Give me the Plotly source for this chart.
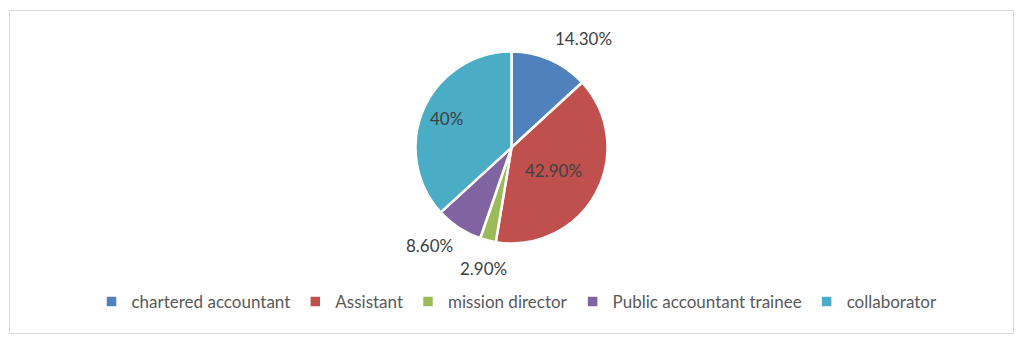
import math
import plotly.graph_objects as go

# Share of respondents by job position
positions = ["chartered accountant", "Assistant", "mission director",
             "Public accountant trainee", "collaborator"]
shares = [14.3, 42.9, 2.9, 8.6, 40]
share_labels = ["14.30%", "42.90%", "2.90%", "8.60%", "40%"]

colors = ["#4F81BD", "#C0504D", "#9BBB59", "#8064A2", "#4BACC6"]
# label placement per slice: ("out", gap in px beyond the rim) or ("in", fraction of radius)
label_place = [("out", 10), ("in", 0.5), ("out", 17), ("out", 8), ("in", 0.74)]

W, H = 1034, 348
cx, cy, r = 511.5, 147.5, 96
text_font = dict(family="Lato", size=17, color="#404040")

fig = go.Figure(go.Pie(
    labels=positions,
    values=shares,
    textinfo="none",
    sort=False,
    direction="clockwise",
    rotation=0,
    marker=dict(colors=colors, line=dict(color="white", width=2.5)),
    domain=dict(x=[(cx - r) / W, (cx + r) / W],
                y=[1 - (cy + r) / H, 1 - (cy - r) / H]),
    hoverinfo="label+percent",
))

# value labels placed along each slice's mid-angle (clockwise from 12 o'clock)
total = sum(shares)
annotations = []
cum = 0.0
for val, txt, (kind, amt) in zip(shares, share_labels, label_place):
    mid = 2 * math.pi * (cum + val / 2) / total
    cum += val
    s, c = math.sin(mid), math.cos(mid)
    if kind == "in":
        dist = r * amt
        xa, ya = "center", "middle"
    else:
        dist = r + amt
        xa = "left" if s > 0.3 else ("right" if s < -0.3 else "center")
        ya = "bottom" if c > 0 else "top"
    px, py = cx + dist * s, cy - dist * c
    annotations.append(dict(
        x=px / W, y=1 - py / H, xref="paper", yref="paper",
        text=txt, showarrow=False, xanchor=xa, yanchor=ya,
        font=text_font, borderpad=0,
    ))

fig.update_layout(
    width=W, height=H,
    margin=dict(l=0, r=0, t=0, b=0),
    paper_bgcolor="white",
    plot_bgcolor="white",
    showlegend=True,
    legend=dict(
        orientation="h",
        x=0.5, xanchor="center",
        y=1 - 302 / H, yanchor="middle",
        font=dict(family="Lato", size=17, color="#595959"),
        traceorder="normal",
    ),
    annotations=annotations,
    shapes=[dict(
        type="rect", xref="paper", yref="paper",
        x0=9.5 / W, x1=1013.5 / W, y0=1 - 333.5 / H, y1=1 - 10.5 / H,
        line=dict(color="#D9D9D9", width=1), fillcolor="rgba(0,0,0,0)",
        layer="below",
    )],
)

fig.write_html("out.html")
